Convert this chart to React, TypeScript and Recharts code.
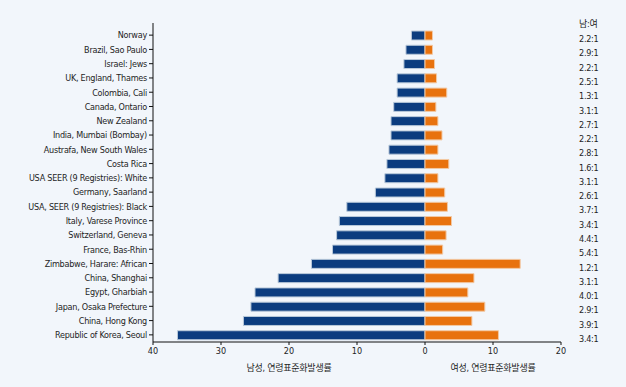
import { BarChart, Bar, XAxis, YAxis, Label } from 'recharts';

const countries = [
  'Norway',
  'Brazil, Sao Paulo',
  'Israel: Jews',
  'UK, England, Thames',
  'Colombia, Cali',
  'Canada, Ontario',
  'New Zealand',
  'India, Mumbai (Bombay)',
  'Austrafa, New South Wales',
  'Costa Rica',
  'USA SEER (9 Registries): White',
  'Germany, Saarland',
  'USA, SEER (9 Registries): Black',
  'Italy, Varese Province',
  'Switzerland, Geneva',
  'France, Bas-Rhin',
  'Zimbabwe, Harare: African',
  'China, Shanghai',
  'Egypt, Gharbiah',
  'Japan, Osaka Prefecture',
  'China, Hong Kong',
  'Republic of Korea, Seoul',
];

// 남성 발생률 (왼쪽으로 그림)
const maleRates = [2.0, 2.8, 3.1, 4.1, 4.1, 4.6, 5.0, 5.0, 5.3, 5.6, 5.9, 7.3, 11.5, 12.6, 13.0, 13.6, 16.7, 21.6, 25.0, 25.6, 26.7, 36.4];
const femaleRates = [1.1, 1.1, 1.4, 1.7, 3.2, 1.6, 1.9, 2.5, 1.9, 3.5, 1.9, 2.9, 3.3, 3.9, 3.1, 2.6, 14.0, 7.2, 6.3, 8.8, 6.9, 10.8];
const ratios = ['2.2:1', '2.9:1', '2.2:1', '2.5:1', '1.3:1', '3.1:1', '2.7:1', '2.2:1', '2.8:1', '1.6:1', '3.1:1', '2.6:1', '3.7:1', '3.4:1', '4.4:1', '5.4:1', '1.2:1', '3.1:1', '4.0:1', '2.9:1', '3.9:1', '3.4:1'];
const xTicks = [-40, -30, -20, -10, 0, 10, 20];

const data = countries.map((country, i) => ({
  country,
  male: -maleRates[i],
  female: femaleRates[i],
}));

const FONT = '"Liberation Sans Narrow", "DejaVu Sans Condensed", "Arial Narrow", "Noto Sans CJK KR", sans-serif';
const TEXT = '#1e1e1e';
const FS = 9;
const LS = -0.25;

const NameTick = ({ x, y, payload }: any) => (
  <text x={x} y={y + 3.3} textAnchor="end" fontSize={FS} letterSpacing={LS} fill={TEXT} fontFamily={FONT}>
    {payload.value}
  </text>
);

const RatioTick = ({ x, y, index }: any) => (
  <text x={x} y={y + 7} textAnchor="start" fontSize={FS} letterSpacing={LS} fill={TEXT} fontFamily={FONT}>
    {ratios[index]}
  </text>
);

const XTick = ({ x, y, payload }: any) => (
  <text x={x} y={y + 7} textAnchor="middle" fontSize={FS} fill={TEXT} fontFamily={FONT}>
    {Math.abs(payload.value)}
  </text>
);

const axisTitles = ({ viewBox }: any) => {
  const { x, y, width } = viewBox;
  return (
    <g fontSize={FS} fill={TEXT} fontFamily={FONT} letterSpacing={LS}>
      <text x={x + width / 3} y={y + 29} textAnchor="middle">남성, 연령표준화발생률</text>
      <text x={x + (width * 5) / 6} y={y + 29} textAnchor="middle">여성, 연령표준화발생률</text>
    </g>
  );
};

const ratioHeader = ({ viewBox }: any) => (
  <text x={viewBox.x + 18} y={viewBox.y + 4} fontSize={FS} letterSpacing={LS} fill={TEXT} fontFamily={FONT}>
    남:여
  </text>
);

export default function App() {
  return (
    <div style={{ position: 'fixed', left: 0, top: 0, width: 626, height: 387, background: '#f2f6fb' }}>
      <BarChart
        width={626}
        height={387}
        data={data}
        layout="vertical"
        stackOffset="sign"
        barCategoryGap={0}
        margin={{ top: 23, right: 5, bottom: 15, left: 3 }}
      >
        <XAxis
          type="number"
          domain={[-40, 20]}
          ticks={xTicks}
          height={30}
          tick={<XTick />}
          tickSize={3}
          tickMargin={2}
          stroke="#111"
          interval={0}
        >
          <Label content={axisTitles} />
        </XAxis>
        <YAxis
          type="category"
          dataKey="country"
          width={150}
          tick={<NameTick />}
          tickSize={4}
          tickMargin={2}
          interval={0}
          stroke="#111"
          padding={{ top: 5, bottom: 0 }}
        />
        <YAxis
          yAxisId="ratio"
          orientation="right"
          type="category"
          dataKey="country"
          width={60}
          tick={<RatioTick />}
          tickLine={false}
          axisLine={false}
          tickSize={0}
          tickMargin={18}
          interval={0}
          padding={{ top: 5, bottom: 0 }}
        >
          <Label content={ratioHeader} />
        </YAxis>
        <Bar dataKey="male" stackId="s" fill="#0b3c7f" stroke="#b9c9da" strokeWidth={1} barSize={9} isAnimationActive={false} />
        <Bar dataKey="female" stackId="s" fill="#e8720e" stroke="#f2c9a4" strokeWidth={1} barSize={9} isAnimationActive={false} />
      </BarChart>
    </div>
  );
}
